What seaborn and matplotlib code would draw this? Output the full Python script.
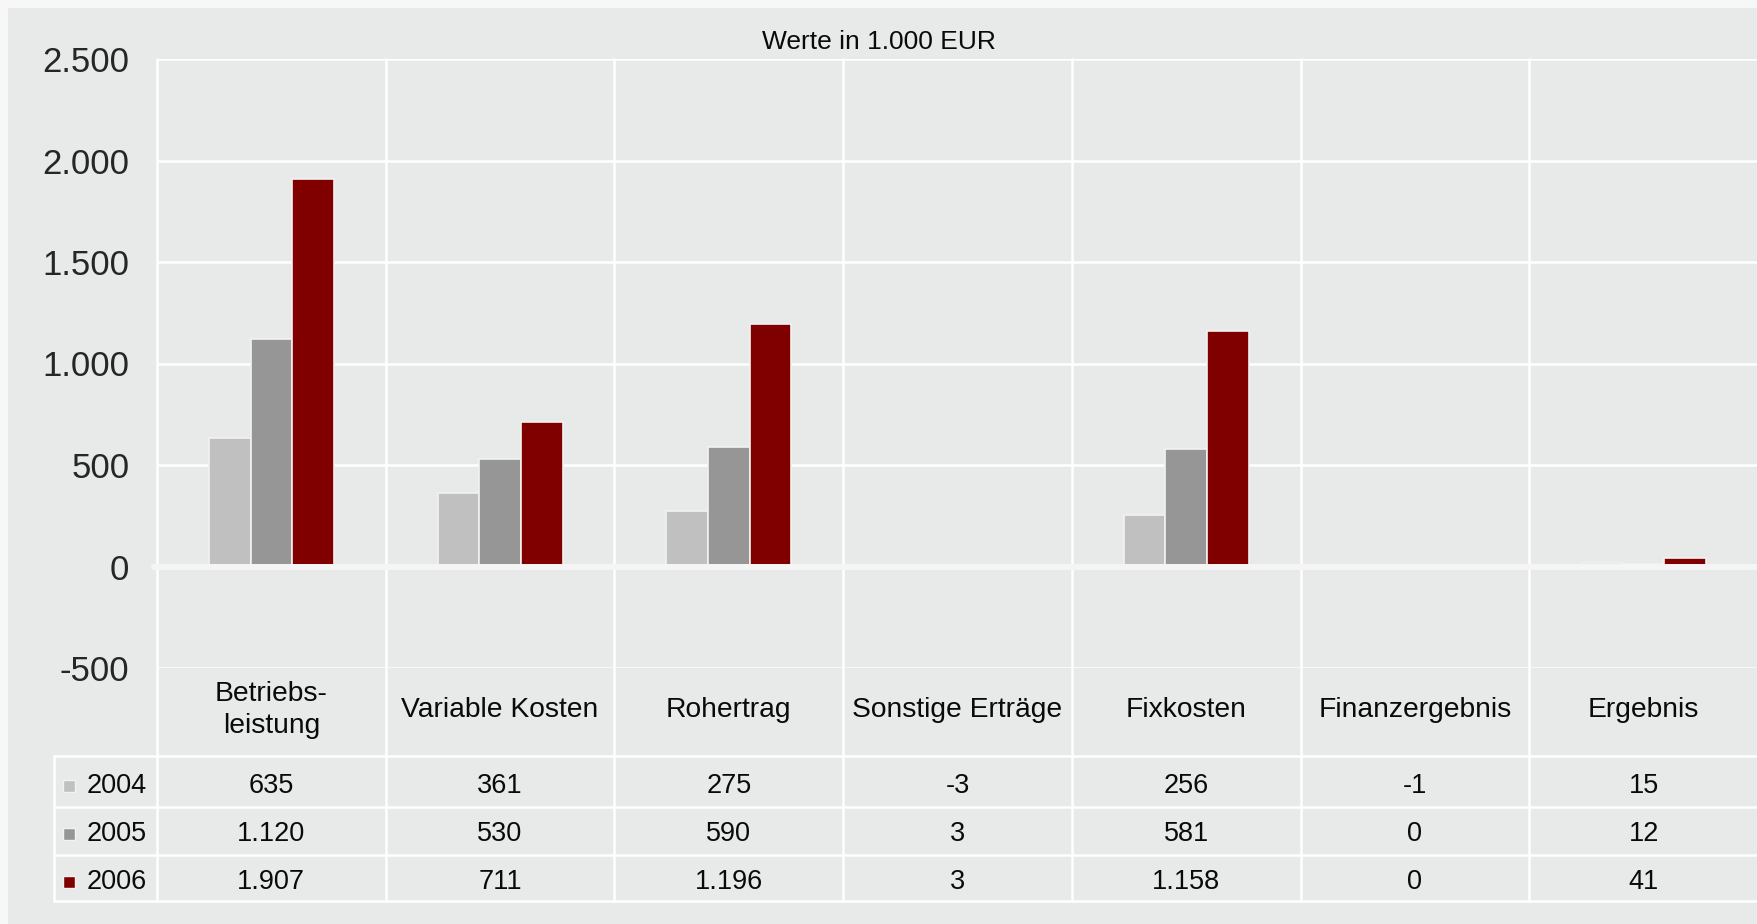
import pandas as pd
import numpy as np
import matplotlib
matplotlib.use("Agg")
import matplotlib.pyplot as plt
from matplotlib.patches import Rectangle
import seaborn as sns

categories = ["Betriebs-\nleistung", "Variable Kosten", "Rohertrag", "Sonstige Erträge",
              "Fixkosten", "Finanzergebnis", "Ergebnis"]
years = ["2004", "2005", "2006"]
v2004 = [635, 361, 275, -3, 256, -1, 15]
v2005 = [1120, 530, 590, 3, 581, 0, 12]
v2006 = [1907, 711, 1196, 3, 1158, 0, 41]
colors = ["#c0c0c0", "#969696", "#800000"]
y_ticks = [-500, 0, 500, 1000, 1500, 2000, 2500]

values = {"2004": v2004, "2005": v2005, "2006": v2006}
rows = []
for y in years:
    for c, v in zip(categories, values[y]):
        rows.append({"Kategorie": c, "Jahr": y, "Wert": v})
df = pd.DataFrame(rows)

sns.set_style("white", {"axes.facecolor": "#e8e9e9"})
plt.rcParams['font.family'] = ['Liberation Sans', 'DejaVu Sans']

W, H = 1758, 924
fig = plt.figure(figsize=(W / 100, H / 100), dpi=100)
fig.patch.set_facecolor("#f7f7f7")
# grey panel behind everything
fig.add_artist(Rectangle((8 / W, 0), 1, 1 - 8 / H, transform=fig.transFigure,
                         facecolor="#e8e9e9", edgecolor="none", zorder=0))

# plot area in pixels
left, right, top, bottom = 157, 1758, 59, 668
ax = fig.add_axes([left / W, 1 - bottom / H, (right - left) / W, (bottom - top) / H])
ax.set_facecolor("#e8e9e9")

sns.barplot(data=df, x="Kategorie", y="Wert", hue="Jahr", hue_order=years,
            palette=colors, saturation=1, width=0.547, edgecolor="#f2f2f2",
            linewidth=1.2, legend=False, ax=ax, zorder=3)

ax.set_xlim(-0.5, len(categories) - 0.5)
ax.set_ylim(-500, 2500)
ax.set_yticks(y_ticks)
ax.set_yticklabels([f"{t:,}".replace(",", ".") for t in y_ticks], fontsize=25)
ax.tick_params(axis="y", length=0, pad=20)
ax.set_xticks([])
ax.set_xlabel("")
ax.set_ylabel("")
for s in ax.spines.values():
    s.set_visible(False)
for t in y_ticks:
    ax.axhline(t, color="white", lw=1.8, zorder=1)
# thick zero line, covers the tiny bars near 0
ax.axhline(0, color="#f5f5f5", lw=4.3, zorder=4, xmin=-0.002, clip_on=False)

# table geometry (axes coordinates, y)
ph = bottom - top
def ay(py):
    return (bottom - py) / ph

tr = ax.get_xaxis_transform()
col_w = (right - left) / len(categories)
def dx(px):
    return -0.5 + (px - left) / col_w

row_lines = [756, 807, 855, 901]
table_bottom = ay(row_lines[-1])
x_left = dx(54)

# vertical lines through plot and table
for i in range(len(categories)):
    ax.plot([i - 0.5, i - 0.5], [1, table_bottom], transform=tr, color="white",
            lw=1.8, clip_on=False, zorder=1)
ax.plot([x_left, x_left], [ay(row_lines[0]), table_bottom], transform=tr,
        color="white", lw=1.8, clip_on=False, zorder=1)
# horizontal table lines
for py in row_lines:
    ax.plot([x_left, len(categories) - 0.5], [ay(py), ay(py)], transform=tr,
            color="white", lw=1.8, clip_on=False, zorder=1)

# category labels
for i, c in enumerate(categories):
    ax.text(i, ay(710), c, transform=tr, ha="center", va="center", fontsize=20.3,
            linespacing=1.3, color="#0a0a0a")

# table values and legend keys
row_centers = [786, 834, 882]
for y, color, pc in zip(years, colors, row_centers):
    for i, v in enumerate(values[y]):
        ax.text(i, ay(pc), f"{v:,}".replace(",", "."), transform=tr, ha="center",
                va="center", fontsize=19.5, color="#0a0a0a")
    ax.add_patch(Rectangle((dx(63), ay(pc + 6)), dx(75) - dx(63), 12 / ph, transform=tr,
                           facecolor=color, edgecolor="#f2f2f2", lw=1, clip_on=False))
    ax.text(dx(87), ay(pc), y, transform=tr, ha="left", va="center", fontsize=19.5,
            color="#0a0a0a")

fig.text(879 / W, 1 - 49 / H, "Werte in 1.000 EUR", ha="center", va="baseline",
         fontsize=19, color="#0a0a0a")

fig.savefig("out.png", dpi=100, facecolor=fig.get_facecolor())
